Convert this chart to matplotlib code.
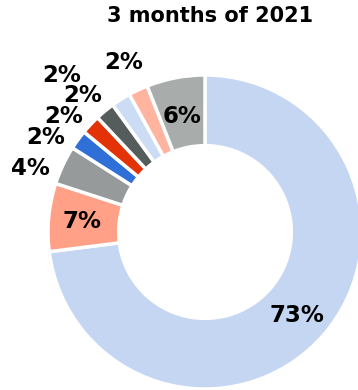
import matplotlib.pyplot as plt
import numpy as np

title = "3 months of 2021"
shares = [73, 7, 4, 2, 2, 2, 2, 2, 6]
colors = ["#C4D6F2", "#FFA087", "#969A9A", "#2E70D8", "#E33205",
          "#555C5C", "#CDDCF5", "#FFB4A0", "#A8ACAB"]
# label placement: radius (in pie radii) and angular nudge (degrees, ccw)
label_r = [0.78, 0.79, 1.19, 1.19, 1.175, 1.18, 1.36, 1.21, 0.765]
label_nudge = [0, -0.6, 4.5, 4.8, 3.3, 1.8, 9.6, 0, 0]

fig = plt.figure(figsize=(3.58, 3.9), dpi=100)
ax = fig.add_axes([0, 0, 1, 1])

R = 157.0
cx, cy = 205.0, 232.0
wedges, _ = ax.pie(shares, colors=colors, startangle=90, counterclock=False,
                   radius=1.0, wedgeprops=dict(width=0.45, edgecolor="white",
                                               linewidth=2.5))
ax.set_aspect("auto")
ax.set_xlim(-cx / R, (358 - cx) / R)
ax.set_ylim(-(390 - cy) / R, cy / R)
ax.axis("off")

for w, v, r, d in zip(wedges, shares, label_r, label_nudge):
    ang = np.deg2rad((w.theta1 + w.theta2) / 2 + d)
    ax.text(r * np.cos(ang), r * np.sin(ang), f"{v}%", ha="center",
            va="center_baseline", fontsize=16.5, fontweight="bold",
            color="black")

fig.text(210 / 358, 1 - 16 / 390, title, ha="center", va="center",
         fontsize=15, fontweight="bold")

fig.savefig("out.png", dpi=100)
